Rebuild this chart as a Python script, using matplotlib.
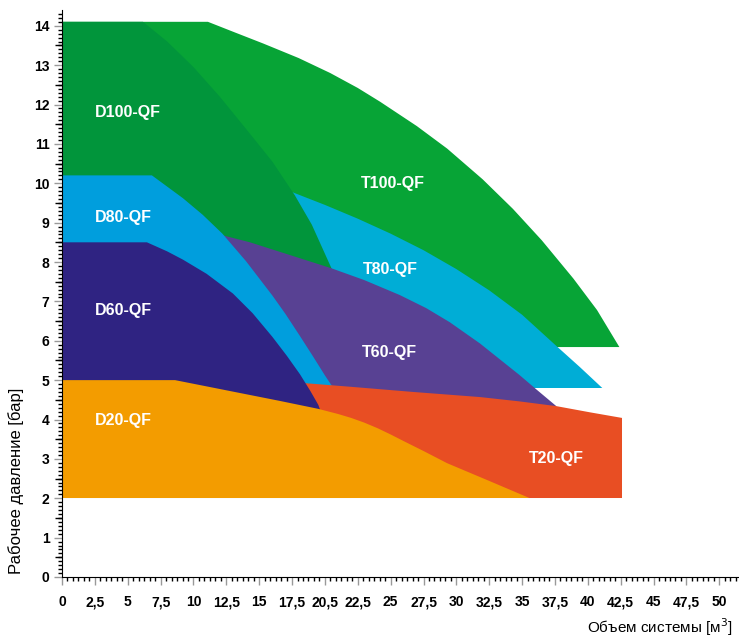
import numpy as np
import matplotlib.pyplot as plt
from matplotlib.ticker import FixedLocator

# Boundary of each working area (volume in m3, pressure in bar)
t100_x = [0, 11.1, 13, 15.3, 18, 20.4, 22.5, 24.2, 27, 29.3, 32, 34.3, 36.5, 38.9, 40.7, 42.4]
t100_y = [14.1, 14.1, 13.85, 13.55, 13.18, 12.8, 12.42, 12.07, 11.45, 10.88, 10.1, 9.35, 8.55, 7.58, 6.78, 5.84]
t100_base = 5.84

t80_x = [0, 10, 17.7, 20, 22.5, 25, 27.5, 30, 32.5, 35, 37.7, 39.4, 41.1]
t80_y = [11.8, 10.8, 9.75, 9.45, 9.1, 8.72, 8.3, 7.82, 7.28, 6.66, 5.84, 5.33, 4.8]
t80_base = 4.8

d100_x = [0, 6.16, 8, 10, 12, 14, 16, 17.7, 19, 20.5, 21.5, 22.0, 22.0]
d100_y = [14.1, 14.1, 13.6, 12.95, 12.2, 11.38, 10.55, 9.7, 8.95, 7.84, 6.5, 5.0, 2.0]

t60_x = [0, 8, 12.2, 14.3, 20.5, 23, 25.7, 27.7, 29.5, 31.8, 34.8, 36.1, 37.6, 37.6]
t60_y = [9.0, 8.85, 8.68, 8.5, 7.84, 7.54, 7.16, 6.83, 6.47, 5.93, 5.13, 4.76, 4.34, 2.0]

d80_x = [0, 6.84, 9.2, 10.7, 12.2, 14, 16, 17, 18.1, 19.1, 20.0, 20.8, 21.3, 21.3]
d80_y = [10.2, 10.2, 9.62, 9.2, 8.72, 8.02, 7.15, 6.68, 6.12, 5.6, 5.12, 4.72, 4.4, 2.0]

t20_x = [14, 18.6, 22, 26.7, 31.8, 34.8, 37.6, 40.2, 42.6, 42.6]
t20_y = [5.0, 4.92, 4.83, 4.7, 4.57, 4.46, 4.34, 4.18, 4.04, 2.0]

d60_x = [0, 6.46, 8, 9.2, 11, 13, 14.5, 16, 17.1, 18.1, 18.9, 19.5, 19.9, 19.9]
d60_y = [8.5, 8.5, 8.27, 8.06, 7.7, 7.2, 6.7, 6.1, 5.62, 5.15, 4.72, 4.37, 4.0, 2.0]

d20_x = [0, 8.6, 16.6, 19.5, 21, 22, 23, 24, 25, 26, 27.5, 29.3, 32.5, 35.6]
d20_y = [5.0, 5.0, 4.47, 4.27, 4.14, 4.04, 3.92, 3.78, 3.62, 3.45, 3.2, 2.89, 2.44, 2.0]
bottom = 2.0

x_ticks = np.arange(0, 50.1, 2.5)
x_labels = ['0', '2,5', '5', '7,5', '10', '12,5', '15', '17,5', '20,5', '22,5', '25',
            '27,5', '30', '32,5', '35', '37,5', '40', '42,5', '45', '47,5', '50']
y_ticks = np.arange(0, 15, 1)

fig = plt.figure(figsize=(7.39, 6.39), dpi=100)
ax = fig.add_axes([62 / 739, 62 / 639, 677 / 739, 567 / 639])

# Draw back to front, each later area hides parts of the earlier ones
ax.fill([0] + t100_x + [t100_x[-1]], [t100_base] + t100_y + [t100_base], color='#07A436', lw=0)
ax.fill(t80_x + [t80_x[-1], 0], t80_y + [t80_base, t80_base], color='#00ADD6', lw=0)
ax.fill([0] + d100_x + [0], [bottom] + d100_y + [bottom], color='#01953B', lw=0)
ax.fill([0] + t60_x + [0], [bottom] + t60_y + [bottom], color='#584193', lw=0)
ax.fill([0] + d80_x + [0], [bottom] + d80_y + [bottom], color='#009EDD', lw=0)
ax.fill(t20_x + [t20_x[0]], t20_y + [bottom], color='#E84E23', lw=0)
ax.fill([0] + d60_x + [0], [bottom] + d60_y + [bottom], color='#2F2382', lw=0)
ax.fill([0] + d20_x + [0], [bottom] + d20_y + [bottom], color='#F39C00', lw=0)
ax.hlines(bottom, 0, t20_x[-1], color='white', lw=0.7)  # hide the seams of the lower areas

# Area labels
names = ['D100-QF', 'D80-QF', 'D60-QF', 'D20-QF', 'T100-QF', 'T80-QF', 'T60-QF', 'T20-QF']
name_x = [5.0, 4.7, 4.7, 4.7, 25.2, 25.0, 24.9, 37.6]
name_y = [11.8, 9.14, 6.78, 3.98, 10.0, 7.82, 5.71, 3.02]
for n, xx, yy in zip(names, name_x, name_y):
    ax.text(xx, yy, n, color='white', fontsize=11.5, fontweight='bold',
            family='Liberation Sans', ha='center', va='center')

ax.set_xlim(0, 51.5)
ax.set_ylim(0, 14.4)
ax.spines['top'].set_visible(False)
ax.spines['right'].set_visible(False)

ax.set_xticks(x_ticks)
ax.set_xticklabels(x_labels)
ax.set_yticks(y_ticks)
ax.xaxis.set_minor_locator(FixedLocator(np.arange(0, 51.5, 2.5 / 6)))
ax.yaxis.set_minor_locator(FixedLocator(np.arange(0, 14.4, 0.1)))
ax.tick_params(which='major', length=6, width=1, color='#999999')
ax.tick_params(axis='x', which='major', pad=7)
ax.tick_params(axis='y', which='major', pad=3)
ax.tick_params(which='minor', length=3, width=1, color='black')
for lab in ax.get_xticklabels() + ax.get_yticklabels():
    lab.set_fontweight('bold')
    lab.set_fontsize(10)
    lab.set_family('Liberation Sans')

# slightly longer marks at every half bar
sec = ax.secondary_yaxis('left')
sec.set_yticks(np.arange(0.5, 14.4, 1))
sec.tick_params(length=5, width=1, color='black', labelleft=False)
sec.spines['left'].set_visible(False)

ax.text(-0.068, 0.17, 'Рабочее давление [бар]', transform=ax.transAxes, rotation=90,
        ha='center', va='center', fontsize=12, family='Liberation Sans')
ax.text(0.99, -0.088, 'Объем системы [м$^3$]', transform=ax.transAxes,
        ha='right', va='center', fontsize=11, family='Liberation Sans')

plt.savefig('out.png', dpi=100)
